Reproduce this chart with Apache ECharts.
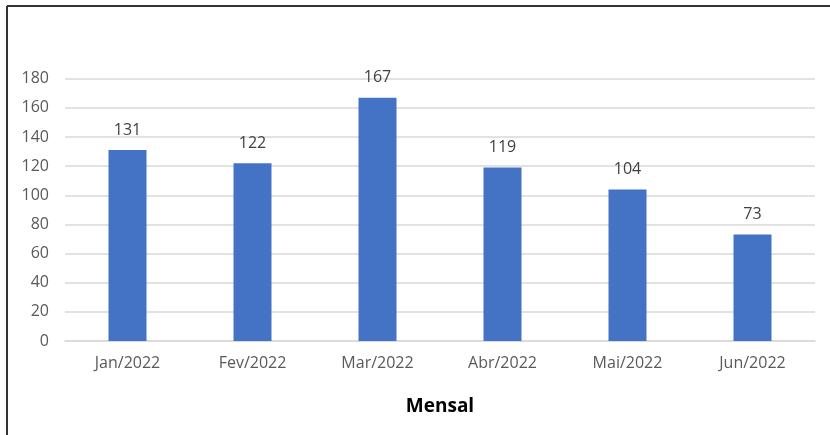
<!DOCTYPE html>
<html><head><meta charset="utf-8">
<script src="https://cdn.jsdelivr.net/npm/echarts@6/dist/echarts.min.js"></script>
<style>html,body{margin:0;padding:0;background:#fff}#c{width:830px;height:435px}</style>
</head><body><div id="c"></div>
<script>
const categories = ['Jan/2022','Fev/2022','Mar/2022','Abr/2022','Mai/2022','Jun/2022'];
const values = [131,122,167,119,104,73];
const axisTitle = 'Mensal';

const chart = echarts.init(document.getElementById('c'), null, {renderer:'canvas'});
const font = '"Open Sans", "Noto Sans", sans-serif';
chart.setOption({
  animation:false,
  backgroundColor:'#fff',
  grid:{left:65, right:15, top:78.7, bottom:94},
  xAxis:{
    type:'category', data:categories,
    name:axisTitle, nameLocation:'middle', nameGap:56,
    nameTextStyle:{fontFamily:font, fontSize:19, fontWeight:'bold', color:'#000'},
    axisLine:{lineStyle:{color:'#d9d9d9', width:1.5}},
    axisTick:{show:false},
    axisLabel:{fontFamily:font, fontSize:16, color:'#595959', margin:14}
  },
  yAxis:{
    type:'value', min:0, max:180, interval:20,
    axisLine:{show:false}, axisTick:{show:false},
    splitLine:{lineStyle:{color:'#d9d9d9', width:1.5}},
    axisLabel:{fontFamily:font, fontSize:16, color:'#595959', margin:16}
  },
  series:[{
    type:'bar', data:values, barWidth:38,
    itemStyle:{color:'#4472C4'},
    label:{show:true, position:'top', distance:12, fontFamily:font, fontSize:16, color:'#404040'}
  }],
  graphic:[
    {type:'line', shape:{x1:7, y1:6, x2:830, y2:6}, style:{stroke:'#333', lineWidth:2}},
    {type:'line', shape:{x1:7, y1:6, x2:7, y2:435}, style:{stroke:'#333', lineWidth:2}}
  ]
});
</script></body></html>
